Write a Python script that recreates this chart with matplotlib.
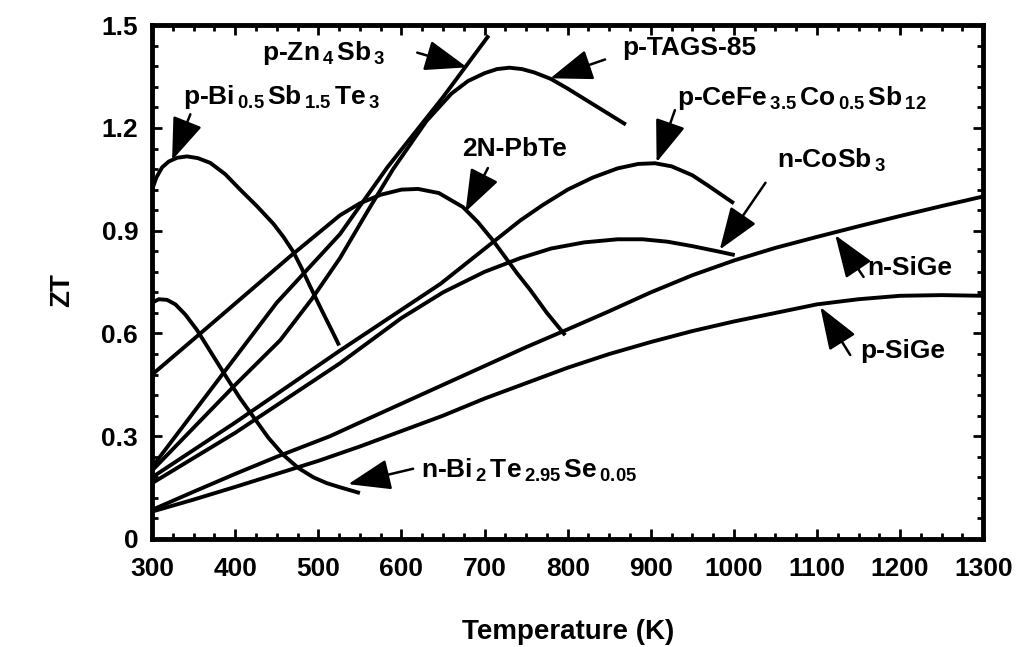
# ZT vs temperature for several thermoelectric materials

import matplotlib.pyplot as plt
from matplotlib.ticker import MultipleLocator

plt.rcParams['font.family'] = ['Liberation Sans', 'DejaVu Sans']
plt.rcParams['font.weight'] = 'bold'
plt.rcParams['mathtext.fontset'] = 'custom'
plt.rcParams['mathtext.rm'] = 'Liberation Sans:bold'
plt.rcParams['mathtext.default'] = 'rm'

# curves: (temperature K, ZT)
bisbte_T = [300, 305, 312, 320, 330, 342, 355, 370, 388, 406, 426, 446, 458, 470, 480, 490, 504, 518, 525]
bisbte_zt = [1.02, 1.055, 1.085, 1.102, 1.113, 1.117, 1.112, 1.098, 1.065, 1.02, 0.972, 0.92,
             0.882, 0.838, 0.79, 0.738, 0.668, 0.60, 0.565]

bitese_T = [300, 308, 318, 328, 340, 354, 372, 390, 406, 422, 440, 458, 476, 494, 510, 526, 550]
bitese_zt = [0.69, 0.70, 0.698, 0.685, 0.655, 0.61, 0.54, 0.47, 0.41, 0.356, 0.295, 0.245,
             0.207, 0.18, 0.163, 0.151, 0.134]

znsb_T = [300, 400, 450, 526, 583, 650, 705]
znsb_zt = [0.21, 0.53, 0.69, 0.89, 1.085, 1.29, 1.47]

tags_T = [300, 400, 454, 492, 526, 560, 590, 630, 660, 680, 700, 715, 730, 745, 760, 780, 800, 830, 870]
tags_zt = [0.20, 0.45, 0.58, 0.70, 0.82, 0.96, 1.08, 1.22, 1.30, 1.337, 1.36, 1.372, 1.376, 1.372,
           1.362, 1.343, 1.315, 1.27, 1.21]

pbte_T = [300, 358, 406, 466, 526, 550, 575, 600, 620, 645, 674, 692, 710, 739, 755, 775, 797]
pbte_zt = [0.48, 0.60, 0.70, 0.825, 0.945, 0.98, 1.005, 1.02, 1.022, 1.01, 0.969, 0.925, 0.872,
           0.776, 0.727, 0.66, 0.595]

cefe_T = [300, 400, 526, 647, 743, 770, 800, 830, 860, 885, 905, 925, 950, 970, 985, 1000]
cefe_zt = [0.18, 0.34, 0.55, 0.745, 0.93, 0.975, 1.02, 1.055, 1.082, 1.095, 1.097, 1.088, 1.062,
           1.03, 1.005, 0.98]

cosb_T = [300, 400, 526, 600, 650, 700, 743, 780, 820, 860, 890, 920, 950, 980, 1001]
cosb_zt = [0.163, 0.31, 0.513, 0.645, 0.72, 0.78, 0.82, 0.848, 0.866, 0.875, 0.875, 0.868, 0.855,
           0.84, 0.829]

nsige_T = [300, 350, 400, 450, 514, 550, 600, 650, 700, 750, 800, 850, 900, 950, 1000, 1050,
           1100, 1150, 1200, 1250, 1300]
nsige_zt = [0.085, 0.138, 0.19, 0.24, 0.30, 0.34, 0.395, 0.45, 0.505, 0.56, 0.612, 0.665, 0.72,
            0.77, 0.813, 0.85, 0.882, 0.913, 0.943, 0.972, 1.0]

psige_T = [300, 350, 400, 450, 500, 550, 600, 650, 700, 750, 800, 850, 900, 950, 1000, 1050,
           1100, 1150, 1200, 1250, 1300]
psige_zt = [0.08, 0.115, 0.152, 0.19, 0.228, 0.27, 0.315, 0.36, 0.41, 0.455, 0.50, 0.54, 0.575,
            0.607, 0.635, 0.66, 0.685, 0.70, 0.71, 0.712, 0.71]

x_ticks = [300, 400, 500, 600, 700, 800, 900, 1000, 1100, 1200, 1300]
y_ticks = [0, 0.3, 0.6, 0.9, 1.2, 1.5]
y_labels = ['0', '0.3', '0.6', '0.9', '1.2', '1.5']

fig = plt.figure(figsize=(10.21, 6.47), dpi=100)
ax = fig.add_axes([0.149, 0.167, 0.814, 0.794])

for T, zt in [(bisbte_T, bisbte_zt), (bitese_T, bitese_zt), (znsb_T, znsb_zt),
              (tags_T, tags_zt), (pbte_T, pbte_zt), (cefe_T, cefe_zt),
              (cosb_T, cosb_zt), (nsige_T, nsige_zt), (psige_T, psige_zt)]:
    ax.plot(T, zt, color='black', lw=2.8, solid_capstyle='butt', solid_joinstyle='round')

ax.set_xlim(300, 1300)
ax.set_ylim(0, 1.5)
ax.set_xticks(x_ticks)
ax.set_yticks(y_ticks)
ax.set_yticklabels(y_labels)
ax.xaxis.set_minor_locator(MultipleLocator(25))
ax.yaxis.set_minor_locator(MultipleLocator(0.06))
ax.tick_params(which='both', direction='in', top=True, right=True, width=2)
ax.tick_params(which='major', length=7, labelsize=19)
ax.tick_params(axis='x', which='major', pad=13)
ax.tick_params(axis='y', which='major', pad=10)
ax.tick_params(which='minor', length=4)
for lab in ax.get_xticklabels() + ax.get_yticklabels():
    lab.set_weight('bold')
for s in ax.spines.values():
    s.set_linewidth(3.5)

ax.set_xlabel('Temperature (K)', fontsize=20, fontweight='bold')
ax.xaxis.set_label_coords(0.5, -0.155)
ax.set_ylabel('ZT', fontsize=20, fontweight='bold')
ax.yaxis.set_label_coords(-0.093, 0.485)

# labels with arrows: text, text pos, arrow tail, arrow tip
notes = [
    (r'p-Zn$_{\,4\,}$Sb$_{\,3}$', (432, 1.42), (619, 1.42), (679, 1.377)),
    (r'p-Bi$_{\,0.5\,}$Sb$_{\,1.5\,}$Te$_{\,3}$', (337, 1.29), (346, 1.24), (324, 1.106)),
    ('2N-PbTe', (673, 1.138), (704, 1.083), (677, 0.955)),
    ('p-TAGS-85', (866, 1.433), (845, 1.40), (779, 1.345)),
    (r'p-CeFe$_{\,3.5\,}$Co$_{\,0.5\,}$Sb$_{\,12}$', (932, 1.287), (929, 1.252), (907, 1.10)),
    (r'n-CoSb$_{\,3}$', (1052, 1.105), (1038, 1.04), (983, 0.845)),
    ('n-SiGe', (1160, 0.79), (1156, 0.765), (1122, 0.887)),
    ('p-SiGe', (1152, 0.55), (1140, 0.537), (1104, 0.677)),
    (r'n-Bi$_{\,2\,}$Te$_{\,2.95\,}$Se$_{\,0.05}$', (624, 0.20), (614, 0.205), (536, 0.16)),
]
for txt, pos, tail, tip in notes:
    ax.text(pos[0], pos[1], txt, fontsize=19, fontweight='bold', va='center', ha='left')
    ax.annotate('', xy=tip, xytext=tail,
                arrowprops=dict(arrowstyle='-|>,head_length=1.1,head_width=0.4',
                                mutation_scale=24, color='black', lw=1.8,
                                shrinkA=0, shrinkB=0))

fig.savefig('out.png', dpi=100)
